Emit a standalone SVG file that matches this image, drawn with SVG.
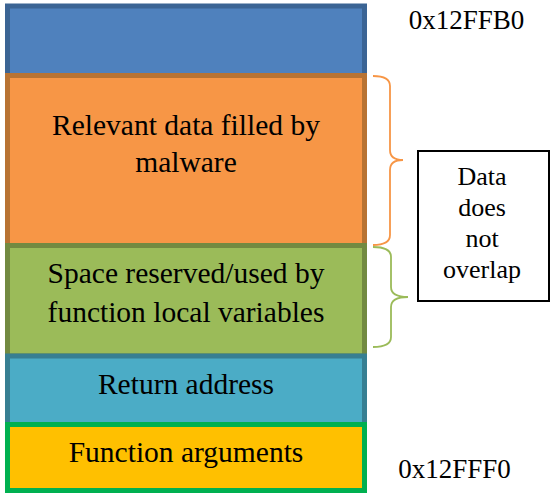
<svg xmlns="http://www.w3.org/2000/svg" width="560" height="499" viewBox="0 0 560 499">
<style>
.big{font-size:29.5px}
.mid{font-size:26px}
.addr{font-size:27px}
.brace{fill:none;stroke-width:1.8}
</style>
<rect width="560" height="499" fill="#fff"/>
<g font-family="Liberation Serif, Times New Roman, DejaVu Serif, serif" text-anchor="middle" fill="#000">
<g id="top-block"><rect x="7.5" y="6" width="357" height="69.5" fill="#4F81BD" stroke="#3B6494" stroke-width="5"/></g>
<g id="malware-data"><rect x="7.5" y="75.5" width="357" height="170" fill="#F79646" stroke="#B87333" stroke-width="5"/>
<text class="big" x="186" y="135">Relevant data filled by</text>
<text class="big" x="186" y="172">malware</text></g>
<g id="local-vars"><rect x="7.5" y="245.5" width="357" height="110.5" fill="#9BBB59" stroke="#728A41" stroke-width="5"/>
<text class="big" x="186" y="283">Space reserved/used by</text>
<text class="big" x="186" y="322">function local variables</text></g>
<g id="return-address"><rect x="7.5" y="356" width="357" height="68.5" fill="#4BACC6" stroke="#377F92" stroke-width="5"/>
<text class="big" x="186" y="394">Return address</text></g>
<g id="function-args"><rect x="7.5" y="424.5" width="357" height="66" fill="#FFC000" stroke="#00B050" stroke-width="5"/>
<text class="big" x="186" y="462">Function arguments</text></g>
<g id="addr-top"><text class="addr" x="466.5" y="29">0x12FFB0</text></g>
<g id="addr-bottom"><text class="addr" x="454.5" y="478">0x12FFF0</text></g>
<g id="connectors">
<path class="brace" stroke="#F79646" d="M373,76 Q390,76 390,86 L390,150 Q390,160 403,160 Q390,160 390,170 L390,235 Q390,245 373,245"/>
<path class="brace" stroke="#9BBB59" d="M373,247 Q391,247 391,257 L391,287 Q391,297 408,297 Q391,297 391,307 L391,337 Q391,347 373,347"/>
</g>
<g id="note"><rect x="418" y="151" width="131" height="150" fill="#fff" stroke="#000" stroke-width="2"/>
<text class="mid" x="482" y="185">Data</text>
<text class="mid" x="482" y="216">does</text>
<text class="mid" x="482" y="247">not</text>
<text class="mid" x="482" y="278">overlap</text></g>
</g>
</svg>
